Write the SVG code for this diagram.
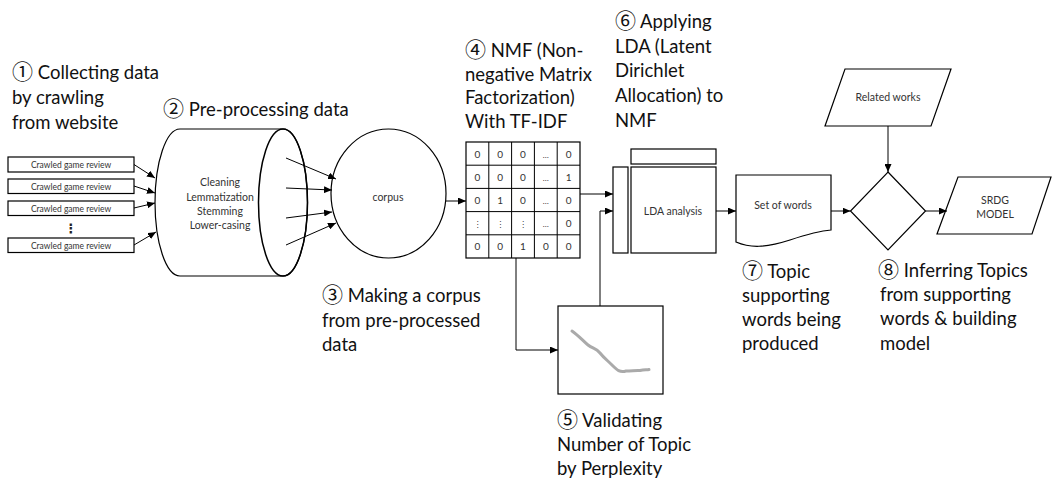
<svg xmlns="http://www.w3.org/2000/svg" width="1052" height="481" viewBox="0 0 1052 481">
<defs>
<marker id="ah" markerWidth="8" markerHeight="7" refX="8" refY="3.5" orient="auto" markerUnits="userSpaceOnUse">
<path d="M0,0 L8,3.5 L0,7 z" fill="#000"/>
</marker>
<style>
.h{font-family:Lato,"Noto Sans CJK JP","DejaVu Sans",sans-serif;font-size:18.5px;fill:#111}
.n{font-family:"Noto Sans CJK JP","DejaVu Sans",sans-serif;font-size:21px}
.s{font-family:Lato,"Noto Sans","DejaVu Sans",sans-serif;font-size:10.5px;fill:#333;text-anchor:middle}
.xs{font-family:Lato,"Noto Sans","DejaVu Sans",sans-serif;font-size:8.5px;fill:#333;text-anchor:middle}
.c{font-family:Lato,"Noto Sans","DejaVu Sans",sans-serif;font-size:10px;fill:#333;text-anchor:middle}
.box{fill:#fff;stroke:#000;stroke-width:1.2}
.ln{fill:none;stroke:#000;stroke-width:1}
.arr{fill:none;stroke:#000;stroke-width:1;marker-end:url(#ah)}
</style>
</defs>
<rect width="1052" height="481" fill="#fff"/>

<g id="labels">
<text class="h" x="12" y="79"><tspan class="n">①</tspan> Collecting data</text>
<text class="h" x="12" y="104">by crawling</text>
<text class="h" x="12" y="129">from website</text>
<text class="h" x="163" y="116"><tspan class="n">②</tspan> Pre-processing data</text>
<text class="h" x="322" y="302"><tspan class="n">③</tspan> Making a corpus</text>
<text class="h" x="322" y="327">from pre-processed</text>
<text class="h" x="322" y="351">data</text>
<text class="h" x="465" y="57"><tspan class="n">④</tspan> NMF (Non-</text>
<text class="h" x="465" y="81">negative Matrix</text>
<text class="h" x="465" y="104">Factorization)</text>
<text class="h" x="465" y="128">With TF-IDF</text>
<text class="h" x="557" y="427"><tspan class="n">⑤</tspan> Validating</text>
<text class="h" x="557" y="451">Number of Topic</text>
<text class="h" x="557" y="475">by Perplexity</text>
<text class="h" x="615" y="28"><tspan class="n">⑥</tspan> Applying</text>
<text class="h" x="615" y="53">LDA (Latent</text>
<text class="h" x="615" y="77">Dirichlet</text>
<text class="h" x="615" y="102">Allocation) to</text>
<text class="h" x="615" y="127">NMF</text>
<text class="h" x="742" y="278"><tspan class="n">⑦</tspan> Topic</text>
<text class="h" x="742" y="302">supporting</text>
<text class="h" x="742" y="326">words being</text>
<text class="h" x="742" y="350">produced</text>
<text class="h" x="878" y="277"><tspan class="n">⑧</tspan> Inferring Topics</text>
<text class="h" x="880" y="301">from supporting</text>
<text class="h" x="880" y="325">words &amp; building</text>
<text class="h" x="880" y="350">model</text>
</g>

<g id="reviews">
<rect class="box" x="8" y="157" width="126" height="15"/>
<text class="xs" x="71" y="167.5">Crawled game review</text>
<rect class="box" x="8" y="179" width="126" height="14.5"/>
<text class="xs" x="71" y="189.5">Crawled game review</text>
<rect class="box" x="8" y="201" width="126" height="14.5"/>
<text class="xs" x="71" y="211.5">Crawled game review</text>
<text x="71" y="233" style="font-family:'DejaVu Sans',sans-serif;font-size:13px;font-weight:bold;fill:#222;text-anchor:middle">⋮</text>
<rect class="box" x="8" y="238" width="126" height="14.5"/>
<text class="xs" x="71" y="248.5">Crawled game review</text>
</g>

<g id="preprocess">
<path class="box" stroke-width="1.5" d="M180,129 H283 A24.5,73.5 0 0,1 283,276 H180 A25,73.5 0 0,1 180,129 Z"/>
<ellipse cx="283" cy="202.5" rx="24.5" ry="73.5" fill="none" stroke="#000" stroke-width="1.5"/>
<text class="s" x="220" y="186">Cleaning</text>
<text class="s" x="220" y="200.5">Lemmatization</text>
<text class="s" x="220" y="214.5">Stemming</text>
<text class="s" x="220" y="229">Lower-casing</text>
</g>

<g id="corpus">
<ellipse class="box" cx="388.5" cy="193.5" rx="57.5" ry="64.5" stroke-width="1.5"/>
<text class="s" x="388" y="201">corpus</text>
</g>

<g id="matrix">
<rect class="box" x="466" y="142" width="114" height="116"/>
<path class="ln" stroke-width="1.2" d="M488.8,142 V258 M511.6,142 V258 M534.4,142 V258 M557.2,142 V258 M466,165.2 H580 M466,188.4 H580 M466,211.6 H580 M466,234.8 H580"/>
<g class="c">
<text x="477.4" y="157.5">0</text><text x="500.2" y="157.5">0</text><text x="523" y="157.5">0</text><text x="545.8" y="157.5" font-size="8">…</text><text x="568.6" y="157.5">0</text>
<text x="477.4" y="180.5">0</text><text x="500.2" y="180.5">0</text><text x="523" y="180.5">0</text><text x="545.8" y="180.5" font-size="8">…</text><text x="568.6" y="180.5">1</text>
<text x="477.4" y="203.5">0</text><text x="500.2" y="203.5">1</text><text x="523" y="203.5">0</text><text x="545.8" y="203.5" font-size="8">…</text><text x="568.6" y="203.5">0</text>
<text x="477.4" y="227" font-size="8">⋮</text><text x="500.2" y="227" font-size="8">⋮</text><text x="523" y="227" font-size="8">⋮</text><text x="545.8" y="227" font-size="8">…</text><text x="568.6" y="227">0</text>
<text x="477.4" y="250">0</text><text x="500.2" y="250">0</text><text x="523" y="250">1</text><text x="545.8" y="250">0</text><text x="568.6" y="250">0</text>
</g>
</g>

<g id="perplexity">
<rect class="box" x="558" y="306" width="105" height="88"/>
<path d="M572,331 C578,335 583,341 588,345 C593,349 596,348 600,353 C604,358 607,360 612,365 C617,370 620,373 626,371 C632,371 636,370 640,370.5 C644,369.5 647,370 649,369.5" fill="none" stroke="#aaa" stroke-width="3" stroke-linecap="round"/>
</g>

<g id="lda">
<rect class="box" x="613" y="167" width="15" height="86"/>
<rect class="box" x="631" y="149" width="85" height="15"/>
<rect class="box" x="631" y="167" width="85" height="86"/>
<text class="s" x="673" y="215">LDA analysis</text>
</g>

<g id="words">
<path class="box" d="M736,175 H831 V230 C818,231 805,235 790,240 C765,248 750,248 736,242 Z"/>
<text class="s" x="783" y="209">Set of words</text>
</g>

<g id="related">
<polygon class="box" points="845,69 951,69 931,126 825,126"/>
<text class="s" x="888" y="101">Related works</text>
</g>

<g id="infer">
<polygon class="box" points="888,172 925.5,211 888,250 850.5,211"/>
</g>

<g id="model">
<polygon class="box" points="958,177 1051,177 1032,234 937,234"/>
<text class="s" x="995" y="204">SRDG</text>
<text class="s" x="995" y="218">MODEL</text>
</g>

<g id="connectors">
<path class="arr" d="M134,164.5 L155,178"/>
<path class="arr" d="M134,186 L155,193"/>
<path class="arr" d="M134,208 L155,203"/>
<path class="arr" d="M134,245 L156,232"/>
<path class="arr" d="M286,158 L336,179"/>
<path class="arr" d="M286,188 L332,190"/>
<path class="arr" d="M286,218 L332,212"/>
<path class="arr" d="M286,245 L336,223"/>
<path class="arr" d="M446,201 L466,201"/>
<path class="arr" d="M580,194 L613,194"/>
<path class="arr" d="M516,258 V350 H558"/>
<path class="arr" d="M600,306 V211 H613"/>
<path class="arr" d="M716,211 L736,211"/>
<path class="arr" d="M831,211 L850.5,211"/>
<path class="arr" d="M888,126 L888,172"/>
<path class="arr" d="M925.5,211 L947,211"/>
</g>
</svg>
